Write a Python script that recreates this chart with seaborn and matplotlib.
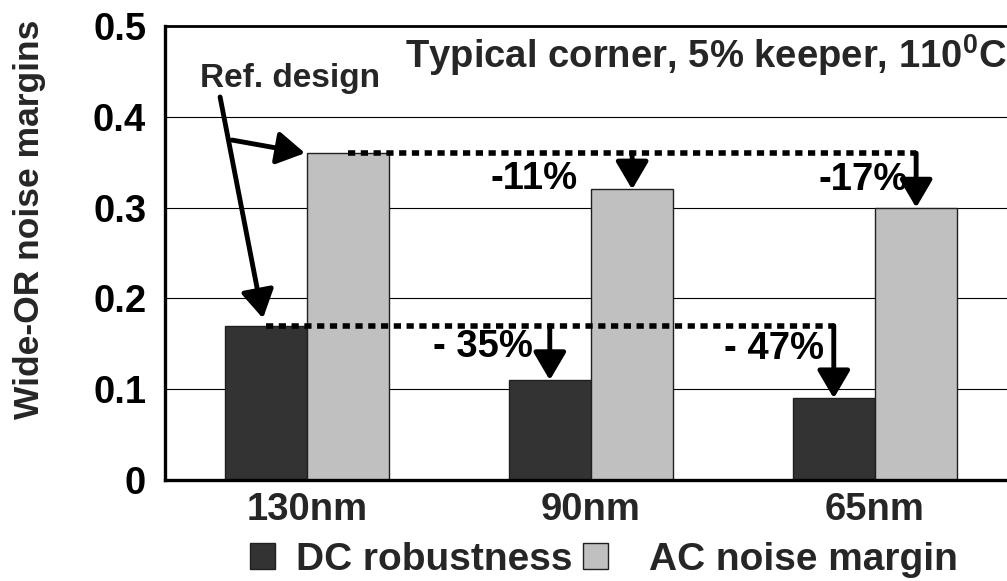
import matplotlib
matplotlib.use('Agg')
import matplotlib.pyplot as plt
from matplotlib.patches import Patch
import seaborn as sns
import pandas as pd

categories = ['130nm', '90nm', '65nm']
dc_robustness = [0.17, 0.11, 0.09]
ac_noise_margin = [0.36, 0.32, 0.30]
series_names = ['DC robustness', 'AC noise margin']
ac_change_labels = ['-11%', '-17%']
dc_change_labels = ['- 35%', '- 47%']
y_ticks = [0, 0.1, 0.2, 0.3, 0.4, 0.5]
y_tick_labels = ['0', '0.1', '0.2', '0.3', '0.4', '0.5']

sns.set_style('white')
plt.rcParams['font.family'] = ['Liberation Sans', 'DejaVu Sans']
plt.rcParams['font.weight'] = 'bold'
plt.rcParams['mathtext.fontset'] = 'custom'
plt.rcParams['mathtext.rm'] = 'Liberation Sans:bold'
plt.rcParams['mathtext.it'] = 'Liberation Sans:bold'
plt.rcParams['mathtext.bf'] = 'Liberation Sans:bold'

df = pd.DataFrame({
    'node': categories * 2,
    'value': dc_robustness + ac_noise_margin,
    'series': [series_names[0]] * len(categories) + [series_names[1]] * len(categories),
})

W, H = 1007, 581
fig = plt.figure(figsize=(W / 100, H / 100), dpi=100)
ax = fig.add_axes([165 / W, 101 / H, 1 - 165 / W, 454 / H])
colors = ['#333333', '#c0c0c0']
bar_width = 0.58
sns.barplot(data=df, x='node', y='value', hue='series', hue_order=series_names,
            order=categories, palette=colors, saturation=1, width=bar_width,
            edgecolor='#202020', linewidth=1, legend=False, ax=ax)

ax.set_xlim(-0.5, 2.465)
ax.set_ylim(0, 0.5)
ax.set_yticks(y_ticks)
ax.set_yticklabels(y_tick_labels)
ax.set_xlabel('')
ax.set_ylabel('')
ax.tick_params(axis='y', direction='out', length=9.5, width=0.8, pad=4,
               labelsize=27.5, colors='black')
ax.tick_params(axis='x', length=0, pad=9, labelsize=27.5)
for lab in ax.get_xticklabels() + ax.get_yticklabels():
    lab.set_fontweight('bold')

ax.yaxis.grid(True, color='black', lw=0.8)
ax.set_axisbelow(True)
ax.spines['right'].set_visible(False)
ax.spines['left'].set_linewidth(2.4)
ax.spines['bottom'].set_linewidth(2.4)
ax.spines['top'].set_linewidth(2.0)
for s in ['left', 'bottom', 'top']:
    ax.spines[s].set_color('black')

off = bar_width / 4
dc_x = [i - off for i in range(len(categories))]
ac_x = [i + off for i in range(len(categories))]

# dotted reference lines
ax.plot([ac_x[0], ac_x[-1]], [ac_noise_margin[0]] * 2, color='black', lw=4,
        ls=(0, (1.3, 1.0)), zorder=4)
ax.plot([dc_x[0], dc_x[-1]], [dc_robustness[0]] * 2, color='black', lw=4,
        ls=(0, (1.3, 1.0)), zorder=4)

arrow_style = '-|>,head_length=0.85,head_width=0.5'
def drop_arrow(x, y0, y1):
    ax.annotate('', xy=(x, y1), xytext=(x, y0),
                arrowprops=dict(arrowstyle=arrow_style, color='black', lw=3.5,
                                mutation_scale=20, shrinkA=0, shrinkB=0),
                zorder=5)

for k in (1, 2):
    drop_arrow(ac_x[k], ac_noise_margin[0], ac_noise_margin[k])
    drop_arrow(dc_x[k], dc_robustness[0], dc_robustness[k])

# percentage labels (positions in data units)
txt = dict(fontsize=27.5, fontweight='bold', ha='center', va='center', color='black')
ax.text(0.80, 0.3315, ac_change_labels[0], **txt)
ax.text(1.96, 0.330, ac_change_labels[1], **txt)
ax.text(0.62, 0.1465, dc_change_labels[0], **txt)
ax.text(1.645, 0.1443, dc_change_labels[1], **txt)

# Ref. design annotation
ax.text(-0.06, 0.4427, 'Ref. design', fontsize=24, fontweight='bold',
        ha='center', va='center')
ax.annotate('', xy=(-0.155, 0.178), xytext=(-0.306, 0.4218),
            arrowprops=dict(arrowstyle=arrow_style, color='black', lw=3.5,
                            mutation_scale=20, shrinkA=0, shrinkB=0))
ax.annotate('', xy=(-0.007, 0.360), xytext=(-0.264, 0.3744),
            arrowprops=dict(arrowstyle=arrow_style, color='black', lw=3.5,
                            mutation_scale=20, shrinkA=0, shrinkB=0))

# condition label
ax.text(1.405, 0.4537, r'Typical corner, 5% keeper, 110${}^{0}$C', fontsize=27.5,
        fontweight='bold', ha='center', va='baseline')

# y label
fig.text(30 / W, 1 - 219 / H, 'Wide-OR noise margins', rotation=90,
         fontsize=25.5, fontweight='bold', ha='center', va='center')

handles = [Patch(facecolor=c, edgecolor='#202020', lw=1) for c in colors]
labels = [series_names[0], '  ' + series_names[1]]
fig.legend(handles, labels, loc='center', bbox_to_anchor=(604 / W, 21 / H),
           ncol=2, frameon=False, prop={'size': 28, 'weight': 'bold'},
           handlelength=0.65, handleheight=0.65, handletextpad=0.55,
           columnspacing=0.25, borderpad=0, borderaxespad=0)

fig.savefig('out.png', dpi=100)
